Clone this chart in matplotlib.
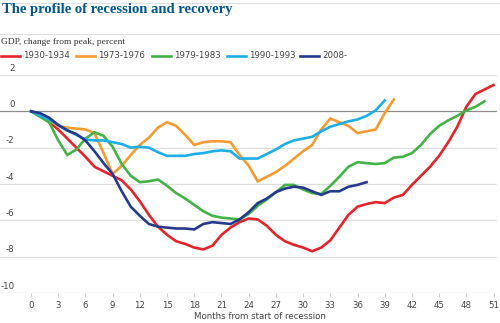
import matplotlib
matplotlib.use("Agg")
import matplotlib.pyplot as plt
from matplotlib.lines import Line2D
from matplotlib import transforms

# GDP, change from peak (percent), one value per month from start of recession
r1930 = [0, -0.25, -0.6, -1.0, -1.5, -2.0, -2.5, -3.05, -3.3, -3.55, -3.8, -4.3,
         -4.95, -5.7, -6.35, -6.8, -7.15, -7.3, -7.5, -7.6, -7.4, -6.8, -6.4, -6.1,
         -5.9, -5.95, -6.3, -6.8, -7.15, -7.35, -7.5, -7.7, -7.5, -7.1, -6.4, -5.7,
         -5.25, -5.1, -5.0, -5.05, -4.75, -4.6, -4.05, -3.55, -3.05, -2.45, -1.7,
         -0.85, 0.25, 0.95, 1.2, 1.45]
r1973 = [0, -0.2, -0.5, -0.8, -0.9, -0.95, -1.0, -1.2, -2.3, -3.45, -3.0, -2.4,
         -1.85, -1.45, -0.9, -0.6, -0.8, -1.3, -1.85, -1.7, -1.65, -1.65, -1.7, -2.4,
         -3.0, -3.85, -3.6, -3.35, -3.0, -2.6, -2.2, -1.85, -1.0, -0.4, -0.6, -0.8,
         -1.2, -1.1, -1.0, -0.1, 0.65]
r1979 = [0, -0.3, -0.6, -1.6, -2.4, -2.1, -1.5, -1.15, -1.35, -1.95, -2.9, -3.55,
         -3.9, -3.85, -3.75, -4.1, -4.5, -4.8, -5.15, -5.5, -5.75, -5.85, -5.9, -5.95,
         -5.65, -5.2, -4.85, -4.45, -4.05, -4.05, -4.3, -4.5, -4.55, -4.1, -3.6, -3.05,
         -2.8, -2.85, -2.9, -2.85, -2.55, -2.5, -2.3, -1.85, -1.25, -0.8, -0.5, -0.25,
         0.05, 0.25, 0.55]
r1990 = [0, -0.25, -0.45, -0.75, -1.05, -1.3, -1.55, -1.6, -1.6, -1.7, -1.8, -2.0,
         -1.95, -2.0, -2.25, -2.45, -2.45, -2.45, -2.35, -2.3, -2.2, -2.15, -2.2, -2.6,
         -2.6, -2.6, -2.35, -2.1, -1.8, -1.6, -1.5, -1.4, -1.1, -0.85, -0.7, -0.55,
         -0.45, -0.25, 0.05, 0.6]
r2008 = [0, -0.1, -0.35, -0.75, -1.05, -1.25, -1.6, -2.2, -2.85, -3.45, -4.4, -5.25,
         -5.75, -6.2, -6.35, -6.4, -6.45, -6.45, -6.5, -6.2, -6.1, -6.15, -6.2, -5.95,
         -5.55, -5.05, -4.8, -4.45, -4.25, -4.15, -4.2, -4.4, -4.6, -4.4, -4.4, -4.15,
         -4.05, -3.9]

labels = ["1930-1934", "1973-1976", "1979-1983", "1990-1993", "2008-"]
colors = ["#e5232b", "#f59b32", "#43b348", "#1eaee6", "#263a8c"]
series = [r1930, r1973, r1979, r1990, r2008]

x_ticks = list(range(0, 52, 3))
y_ticks = [2, 0, -2, -4, -6, -8, -10]

W, H = 500, 323
fig = plt.figure(figsize=(W / 100, H / 100), dpi=100)
ax = fig.add_axes([0, (H - 293) / H, 497 / W, (293 - 75) / H])
ax.set_xlim(-3.42, 51.38)
ax.set_ylim(-10, 2)

for v in y_ticks:
    if v == 0:
        ax.axhline(v, color="#8c8c8c", lw=0.9, zorder=1)
    else:
        ax.axhline(v, color="#dedede", lw=0.9, zorder=1)

order = [4, 0, 1, 2, 3]
for i in order:
    ax.plot(range(len(series[i])), series[i], color=colors[i], lw=1.9,
            solid_joinstyle="miter", zorder=3 + i, clip_on=False)

for s in ax.spines.values():
    s.set_visible(False)
ax.set_yticks([])
ax.set_xticks(x_ticks)
ax.tick_params(axis="x", length=3, width=0.8, color="#cfcfcf", pad=3,
               labelsize=6.2, labelcolor="#444444")
ax.set_xlabel("Months from start of recession", fontsize=6.2, color="#444444",
              labelpad=3)
ax.xaxis.set_label_coords(260 / 497, -0.085)

trans = transforms.blended_transform_factory(fig.transFigure, ax.transData)
for v in y_ticks:
    ax.text(14.5 / W, v + 0.13, str(v), transform=trans, ha="right", va="bottom",
            fontsize=6.2, color="#444444")

# header
fig.text(2 / W, 1 - 10 / H, "The profile of recession and recovery",
         fontsize=10.5, fontweight="bold", family="Liberation Serif",
         color="#005689", va="center", ha="left")
fig.add_artist(Line2D([0, 1], [1 - 2.5 / H, 1 - 2.5 / H], color="#e0e0e0", lw=0.8))
fig.add_artist(Line2D([0, 1], [1 - 34 / H, 1 - 34 / H], color="#e0e0e0", lw=0.8))
fig.text(1 / W, 1 - 41.5 / H, "GDP, change from peak, percent", fontsize=6.8,
         family="Liberation Serif", color="#333333", va="center", ha="left")

# legend
lx = [1, 76, 152, 227, 300]
ly = 1 - 56 / H
for x0, lab, c in zip(lx, labels, colors):
    fig.add_artist(Line2D([x0 / W, (x0 + 19) / W], [ly, ly], color=c, lw=1.9))
    fig.text((x0 + 22) / W, ly, lab, fontsize=6.2, color="#444444",
             va="center", ha="left")

fig.savefig("out.png", dpi=100)
